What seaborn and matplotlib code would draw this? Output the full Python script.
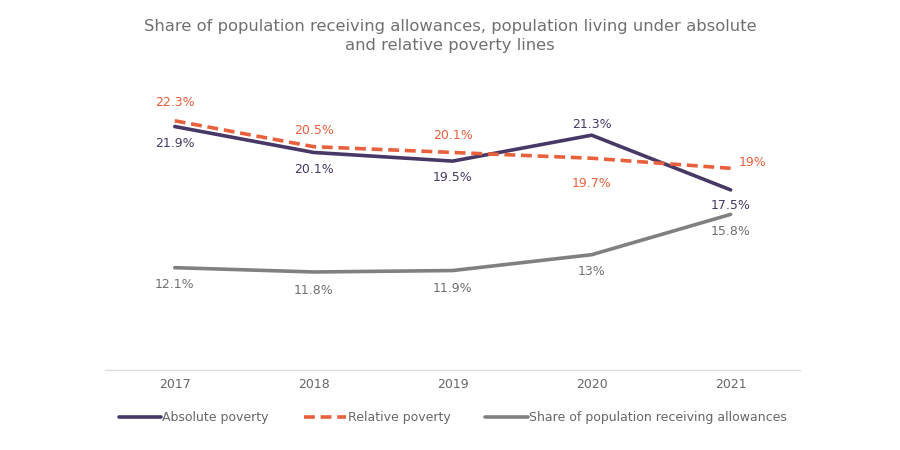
import matplotlib
matplotlib.use("Agg")
import matplotlib.pyplot as plt
import pandas as pd
import seaborn as sns

years = ["2017", "2018", "2019", "2020", "2021"]
absolute_poverty = [21.9, 20.1, 19.5, 21.3, 17.5]
relative_poverty = [22.3, 20.5, 20.1, 19.7, 19.0]
allowances_share = [12.1, 11.8, 11.9, 13.0, 15.8]

series_names = ["Absolute poverty", "Relative poverty",
                "Share of population receiving allowances"]
colors = ["#483866", "#e8603c", "#808080"]

# label placement (dx, dy in points) per point
abs_offsets = [(0, -12), (0, -12), (0, -12), (0, 8), (0, -11)]
rel_offsets = [(0, 13), (0, 12), (0, 12), (0, -18), (16, 4)]
allow_offsets = [(0, -12), (0, -13), (0, -13), (0, -12), (0, -12)]


def fmt(v):
    return f"{v:g}%"


df = pd.concat([
    pd.DataFrame({"year": years, "value": absolute_poverty, "series": series_names[0]}),
    pd.DataFrame({"year": years, "value": relative_poverty, "series": series_names[1]}),
    pd.DataFrame({"year": years, "value": allowances_share, "series": series_names[2]}),
])
df["x"] = df["year"].map({y: i for i, y in enumerate(years)})

sns.set_style("white")
plt.rcParams["font.family"] = ["DejaVu Sans"]

fig = plt.figure(figsize=(9, 4.5), dpi=100)
ax = fig.add_axes([0.117, 0.178, 0.772, 0.64])

sns.lineplot(data=df, x="x", y="value", hue="series", style="series",
             palette=dict(zip(series_names, colors)),
             dashes={series_names[0]: "", series_names[1]: (3, 1.6), series_names[2]: ""},
             linewidth=2.6, ax=ax, legend=True)

for vals, offs, col in [(absolute_poverty, abs_offsets, colors[0]),
                        (relative_poverty, rel_offsets, colors[1]),
                        (allowances_share, allow_offsets, "#707070")]:
    for i, (v, (dx, dy)) in enumerate(zip(vals, offs)):
        ax.annotate(fmt(v), (i, v), xytext=(dx, dy), textcoords="offset points",
                    ha="center", va="center", fontsize=9, color=col)

ax.set_xlim(-0.5, 4.5)
ax.set_ylim(5, 25)
ax.set_xticks(range(len(years)))
ax.set_xticklabels(years)
ax.set_yticks([])
ax.set_xlabel("")
ax.set_ylabel("")
ax.tick_params(axis="x", length=0, pad=6, labelsize=9, labelcolor="#666666")
for side in ["top", "right", "left"]:
    ax.spines[side].set_visible(False)
ax.spines["bottom"].set_color("#dddddd")
ax.spines["bottom"].set_linewidth(1)

handles, labels = ax.get_legend_handles_labels()
ax.legend(handles, labels, loc="center", bbox_to_anchor=(0.5, -0.167),
          ncol=3, frameon=False, fontsize=9, labelcolor="#666666",
          handlelength=3.4, handletextpad=0.1, columnspacing=2.8)

fig.suptitle("Share of population receiving allowances, population living under absolute\n"
             "and relative poverty lines", x=0.5, y=0.958, fontsize=11.8,
             color="#707070", linespacing=1.3)

fig.savefig("out.png", dpi=100)
